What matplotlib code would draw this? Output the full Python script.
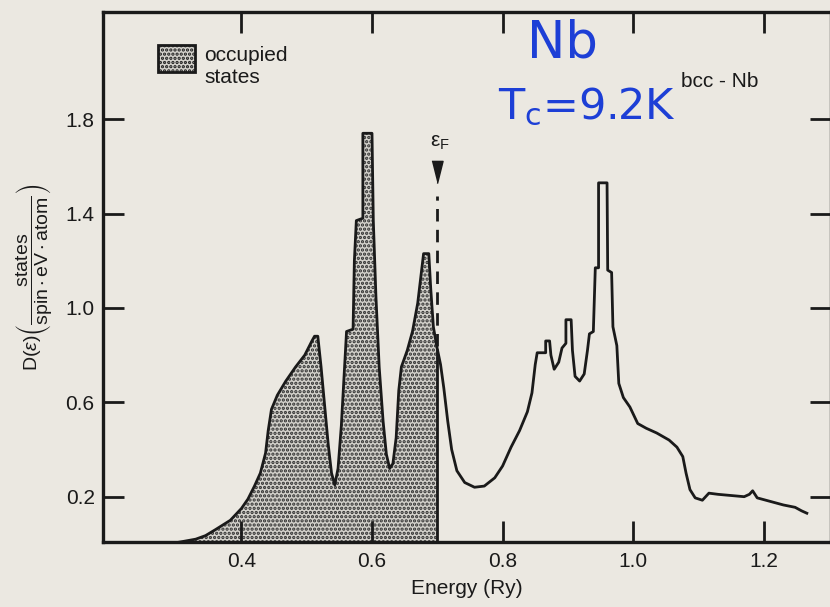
import matplotlib
matplotlib.use('Agg')
import matplotlib.pyplot as plt
from matplotlib.patches import Rectangle
import numpy as np

# density of states for bcc Nb
energy = [0.19, 0.29, 0.31, 0.33, 0.345, 0.36, 0.383, 0.40, 0.41, 0.42,
          0.429, 0.437, 0.441, 0.446, 0.455, 0.468, 0.483, 0.497, 0.508, 0.512,
          0.517, 0.522, 0.527, 0.533, 0.538, 0.543, 0.548, 0.553, 0.558, 0.561,
          0.571, 0.573, 0.576, 0.586, 0.586, 0.600, 0.602, 0.606, 0.611, 0.617,
          0.622, 0.627, 0.632, 0.637, 0.641, 0.645, 0.654, 0.662, 0.670, 0.676,
          0.679, 0.687, 0.690, 0.694, 0.699, 0.705, 0.710, 0.716, 0.722, 0.730,
          0.742, 0.757, 0.772, 0.788, 0.800, 0.813, 0.826, 0.838, 0.845, 0.850,
          0.853, 0.866, 0.866, 0.872, 0.874, 0.879, 0.886, 0.891, 0.897, 0.897,
          0.905, 0.907, 0.911, 0.918, 0.925, 0.930, 0.933, 0.939, 0.942, 0.947,
          0.947, 0.960, 0.961, 0.967, 0.969, 0.975, 0.978, 0.985, 0.995, 1.007,
          1.020, 1.036, 1.055, 1.067, 1.076, 1.081, 1.087, 1.095, 1.106, 1.116,
          1.130, 1.150, 1.170, 1.178, 1.183, 1.190, 1.210, 1.230, 1.248, 1.258,
          1.266]
dos = [0.0, 0.0, 0.01, 0.02, 0.035, 0.06, 0.10, 0.15, 0.19, 0.245,
       0.30, 0.385, 0.48, 0.57, 0.63, 0.69, 0.75, 0.80, 0.86, 0.88,
       0.88, 0.75, 0.60, 0.42, 0.30, 0.25, 0.32, 0.50, 0.75, 0.90,
       0.91, 1.20, 1.37, 1.38, 1.74, 1.74, 1.37, 1.05, 0.75, 0.52,
       0.38, 0.32, 0.34, 0.45, 0.65, 0.75, 0.82, 0.90, 1.02, 1.16,
       1.23, 1.23, 1.08, 0.92, 0.84, 0.76, 0.66, 0.52, 0.40, 0.31,
       0.26, 0.24, 0.245, 0.28, 0.33, 0.41, 0.48, 0.56, 0.64, 0.76,
       0.81, 0.81, 0.86, 0.86, 0.80, 0.74, 0.77, 0.83, 0.85, 0.95,
       0.95, 0.82, 0.71, 0.69, 0.72, 0.82, 0.89, 0.90, 1.17, 1.17,
       1.53, 1.53, 1.16, 1.15, 0.92, 0.84, 0.68, 0.62, 0.58, 0.51,
       0.49, 0.47, 0.44, 0.41, 0.37, 0.30, 0.23, 0.195, 0.185, 0.215,
       0.21, 0.205, 0.20, 0.21, 0.225, 0.195, 0.18, 0.165, 0.155, 0.14,
       0.13]
fermi_energy = 0.70
x_ticks = [0.4, 0.6, 0.8, 1.0, 1.2]
y_ticks = [0.2, 0.6, 1.0, 1.4, 1.8]

paper = '#ebe8e1'
ink = '#1a1a1a'
shade = '#d3d1cb'
plt.rcParams['font.family'] = ['Liberation Sans', 'DejaVu Sans']
plt.rcParams['mathtext.fontset'] = 'custom'
plt.rcParams['mathtext.rm'] = 'Liberation Sans'
plt.rcParams['mathtext.it'] = 'Liberation Sans:italic'
plt.rcParams['mathtext.fallback'] = 'stixsans'
plt.rcParams['hatch.linewidth'] = 1.6

fig = plt.figure(figsize=(8.3, 6.07), dpi=100, facecolor=paper)
ax = fig.add_axes([103 / 830, 1 - 542 / 607, 728 / 830, 530 / 607])
ax.set_facecolor(paper)

energy = np.array(energy)
dos = np.array(dos)

# occupied part up to the Fermi level
dos_at_fermi = np.interp(fermi_energy, energy, dos)
occ_e = np.append(energy[energy < fermi_energy], fermi_energy)
occ_d = np.append(dos[energy < fermi_energy], dos_at_fermi)
ax.fill_between(occ_e, 0, occ_d, facecolor=shade, edgecolor='#2e2e2e',
                hatch='....', linewidth=0, zorder=1)
ax.vlines(fermi_energy, 0, dos_at_fermi, colors=ink, linewidth=2.0, zorder=3)

ax.plot(energy, dos, color=ink, linewidth=2.0, zorder=3)

# Fermi level marker
ax.plot([fermi_energy, fermi_energy], [dos_at_fermi + 0.01, 1.475],
        color=ink, linewidth=2.0, linestyle=(0, (4.5, 3.0)), zorder=3)
ax.plot(fermi_energy, 1.576, marker=[(-0.5, 1), (0.5, 1), (0, -1)],
        markersize=16, color=ink, zorder=3)
ax.text(fermi_energy + 0.004, 1.70, r'$\mathrm{\epsilon}_\mathrm{F}$',
        fontsize=15, ha='center', va='center', color=ink)

# legend box
ax.add_patch(Rectangle((0.2716, 2.0), 0.058, 0.114, facecolor=shade,
                       edgecolor=ink, hatch='....', linewidth=2.0))
ax.text(0.343, 2.108, 'occupied\nstates', fontsize=15, ha='left', va='top',
        linespacing=1.15, color=ink)
ax.text(1.073, 1.96, 'bcc - Nb', fontsize=15, ha='left', va='center',
        color=ink)

# handwritten notes
ax.text(0.892, 2.12, 'Nb', fontsize=37, ha='center', va='center',
        color='#1d3fd6', family='DejaVu Sans')
ax.text(0.929, 1.85, r'T$_\mathregular{c}$=9.2K', fontsize=31, ha='center',
        va='center', color='#1d3fd6', family='DejaVu Sans')

ax.set_xlim(0.188, 1.303)
ax.set_ylim(0.008, 2.254)
ax.set_xticks(x_ticks)
ax.set_xticklabels(['{:.1f}'.format(v) for v in x_ticks])
ax.set_yticks(y_ticks)
ax.set_yticklabels(['{:.1f}'.format(v) for v in y_ticks])
ax.tick_params(direction='in', length=15, width=2.0, top=True, right=True,
               labelsize=15, colors=ink)
ax.tick_params(axis='x', pad=7)
ax.tick_params(axis='y', pad=6)
for spine in ax.spines.values():
    spine.set_linewidth(2.4)
    spine.set_color(ink)

ax.set_xlabel('Energy (Ry)', fontsize=15, labelpad=6, color=ink)
ax.set_ylabel(r'$\mathrm{D}(\epsilon)\left(\dfrac{\mathrm{states}}'
              r'{\mathrm{spin}\cdot\mathrm{eV}\cdot\mathrm{atom}}\right)$',
              fontsize=14, labelpad=8, color=ink)

fig.savefig('out.png', dpi=100, facecolor=paper)
